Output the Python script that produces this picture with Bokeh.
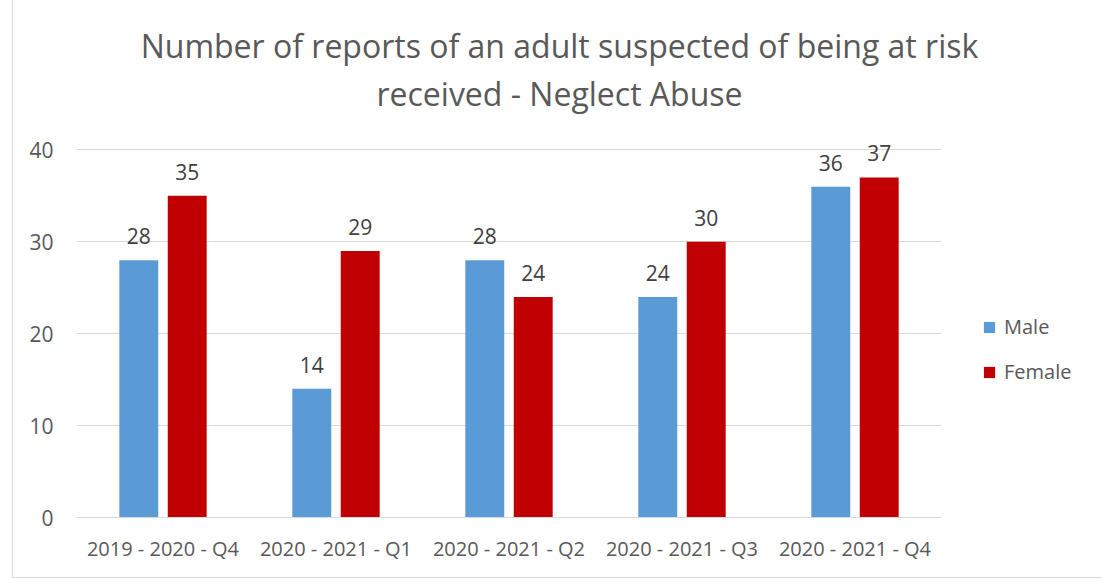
from bokeh.plotting import figure
from bokeh.models import Range1d, ColumnDataSource, Legend, LegendItem, Div, FixedTicker
from bokeh.layouts import column
from bokeh.transform import dodge
from bokeh.core.properties import value
from bokeh.embed import file_html
from bokeh.resources import INLINE

categories = ["2019 - 2020 - Q4", "2020 - 2021 - Q1", "2020 - 2021 - Q2", "2020 - 2021 - Q3", "2020 - 2021 - Q4"]
male = [28, 14, 28, 24, 36]
female = [35, 29, 24, 30, 37]
y_ticks = [0, 10, 20, 30, 40]
title_lines = ["Number of reports of an adult suspected of being at risk", "received - Neglect Abuse"]

FONT = "Open Sans"
GRAY = "#595959"

n = len(categories)
xi = [i + 0.5 for i in range(n)]
src = ColumnDataSource(dict(xi=xi, male=male, female=female,
                            male_s=[str(v) for v in male], female_s=[str(v) for v in female]))

title = Div(text="<br>".join(title_lines), width=1083, height=116,
            styles={"text-align": "center", "color": GRAY, "font-family": FONT,
                    "font-size": "32px", "line-height": "48px", "padding-top": "19px",
                    "width": "1083px"})

PX_PER_CAT = 173
FRAME_W = 1020
p = figure(x_range=Range1d(0, FRAME_W / PX_PER_CAT), y_range=Range1d(0, 42),
           frame_width=FRAME_W, frame_height=386, output_backend="svg", toolbar_location=None,
           min_border_left=63, min_border_right=0, min_border_top=7, min_border_bottom=60)
p.outline_line_color = None

rm = p.vbar(x=dodge("xi", -0.14), top="male", width=0.225, source=src,
            fill_color="#5B9BD5", line_color=None)
rf = p.vbar(x=dodge("xi", 0.14), top="female", width=0.225, source=src,
            fill_color="#C00000", line_color=None)

p.text(x=dodge("xi", -0.14), y="male", text="male_s", source=src,
       text_align="center", text_baseline="bottom", y_offset=-16,
       text_font=value(FONT), text_font_size="21px", text_color="#404040")
p.text(x=dodge("xi", 0.14), y="female", text="female_s", source=src,
       text_align="center", text_baseline="bottom", y_offset=-16,
       text_font=value(FONT), text_font_size="21px", text_color="#404040")

p.yaxis.ticker = y_ticks
p.yaxis.axis_line_color = None
p.yaxis.major_tick_line_color = None
p.yaxis.minor_tick_line_color = None
p.yaxis.major_label_text_font = FONT
p.yaxis.major_label_text_font_size = "21px"
p.yaxis.major_label_text_color = GRAY
p.yaxis.major_label_standoff = 17

p.xaxis.ticker = FixedTicker(ticks=xi)
p.xaxis.major_label_overrides = {x: c for x, c in zip(xi, categories)}
p.xaxis.bounds = (0, n)
p.xaxis.axis_line_color = "#D9D9D9"
p.xaxis.axis_line_width = 1
p.xaxis.major_tick_line_color = None
p.xaxis.minor_tick_line_color = None
p.xaxis.major_label_text_font = FONT
p.xaxis.major_label_text_font_size = "20px"
p.xaxis.major_label_text_color = GRAY
p.xaxis.major_label_standoff = 11

p.xgrid.grid_line_color = None
p.ygrid.grid_line_color = "#D9D9D9"
p.ygrid.grid_line_width = 1
p.ygrid.cross_bounds = (0, n)

legend = Legend(items=[LegendItem(label="Male", renderers=[rm]),
                       LegendItem(label="Female", renderers=[rf])],
                location=(906, 132), orientation="vertical",
                glyph_width=14, glyph_height=14, label_height=20, spacing=18,
                padding=0, margin=0, label_standoff=8,
                label_text_font=FONT, label_text_font_size="20px", label_text_color=GRAY,
                border_line_color=None, background_fill_alpha=0)
p.add_layout(legend)

layout = column(title, p, spacing=0,
                styles={"border": "1px solid #D9D9D9", "margin-left": "12px", "margin-top": "-3px"})

open("out.html", "w").write(file_html(layout, INLINE))
